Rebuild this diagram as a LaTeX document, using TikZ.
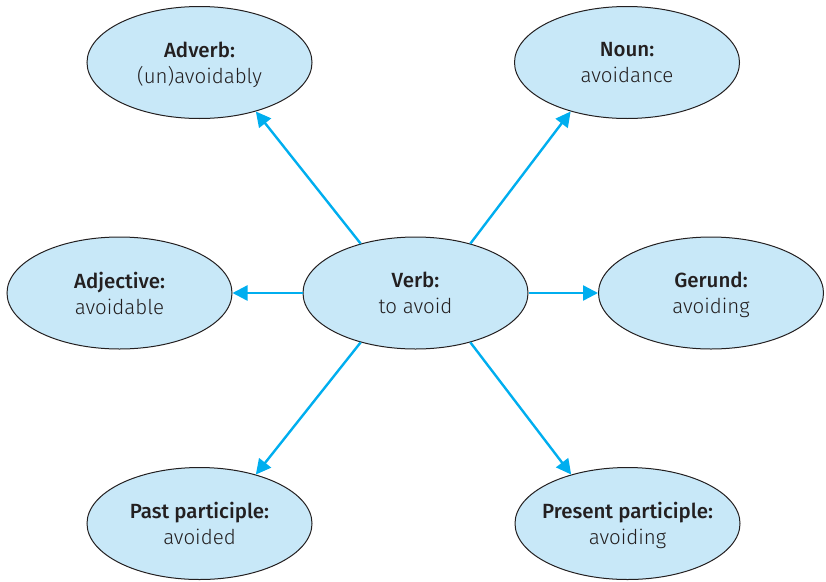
\documentclass[tikz,border=0pt]{standalone}
\usepackage{fontspec}
\setmainfont{Fira Sans Light}[BoldFont={Fira Sans Medium}]
\usetikzlibrary{arrows.meta,shapes.geometric}
\definecolor{bubble}{HTML}{C8E8F8}
\definecolor{link}{HTML}{00AEEF}
\definecolor{rim}{HTML}{231F20}
\begin{document}
\begin{tikzpicture}[x=1pt,y=-1pt,
  main/.style = {draw=rim, line width=1pt, fill=bubble, ellipse, minimum width=225pt, minimum height=112pt, inner xsep=-30pt, inner ysep=-10pt, align=center, text=rim, font=\fontsize{20.5}{26}\selectfont, execute at begin node=\strut, text depth=0pt},
  arr/.style = {draw=link, line width=2.4pt, -{Triangle[length=15pt,width=15pt]}}]
\useasboundingbox (0,0) rectangle (826,581);
\node[main] (verb) at (415.5,293) {\textbf{Verb:}\\to avoid};
\node[main] (adverb) at (199.5,62.5) {\textbf{Adverb:}\\(un)avoidably};
\node[main] (noun) at (627,62.5) {\textbf{Noun:}\\avoidance};
\node[main] (adjective) at (119.5,293) {\textbf{Adjective:}\\avoidable};
\node[main] (gerund) at (711,293) {\textbf{Gerund:}\\avoiding};
\node[main] (past) at (199.5,523.5) {\textbf{Past participle:}\\avoided};
\node[main] (present) at (627.5,523.5) {\textbf{Present participle:}\\avoiding};
\draw[arr] (verb.138) -- (adverb.319);
\draw[arr] (verb.42) -- (noun.221);
\draw[arr] (verb.west) -- (adjective.east);
\draw[arr] (verb.east) -- (gerund.west);
\draw[arr] (verb.222) -- (past.41);
\draw[arr] (verb.318) -- (present.139);
\end{tikzpicture}
\end{document}
